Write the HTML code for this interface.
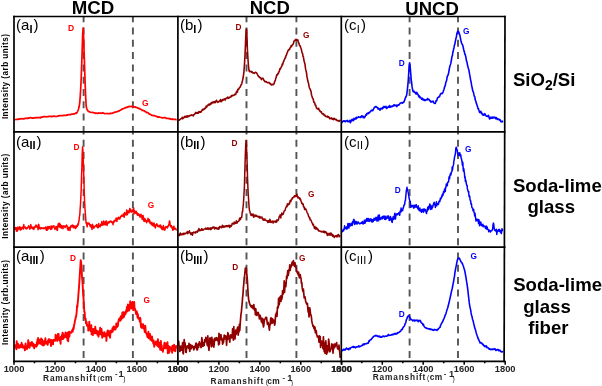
<!DOCTYPE html><html><head><meta charset="utf-8"><style>html,body{margin:0;padding:0;background:#fff;}svg{display:block;will-change:transform;font-family:"Liberation Sans",sans-serif;}</style></head><body>
<svg width="602" height="386" viewBox="0 0 602 386" >
<rect width="602" height="386" fill="#fff"/>
<line x1="83.6" y1="16.5" x2="83.6" y2="131.8" stroke="#555" stroke-width="1.9" stroke-dasharray="7 5.3" stroke-dashoffset="1.3"/>
<line x1="132.9" y1="16.5" x2="132.9" y2="131.8" stroke="#555" stroke-width="1.9" stroke-dasharray="7 5.3" stroke-dashoffset="1.3"/>
<line x1="246.5" y1="16.5" x2="246.5" y2="131.8" stroke="#555" stroke-width="1.9" stroke-dasharray="7 5.3" stroke-dashoffset="1.3"/>
<line x1="296.4" y1="16.5" x2="296.4" y2="131.8" stroke="#555" stroke-width="1.9" stroke-dasharray="7 5.3" stroke-dashoffset="1.3"/>
<line x1="409.6" y1="16.5" x2="409.6" y2="131.8" stroke="#555" stroke-width="1.9" stroke-dasharray="7 5.3" stroke-dashoffset="1.3"/>
<line x1="458.0" y1="16.5" x2="458.0" y2="131.8" stroke="#555" stroke-width="1.9" stroke-dasharray="7 5.3" stroke-dashoffset="1.3"/>
<line x1="83.6" y1="131.8" x2="83.6" y2="247.2" stroke="#555" stroke-width="1.9" stroke-dasharray="7 5.3" stroke-dashoffset="4.3"/>
<line x1="132.9" y1="131.8" x2="132.9" y2="247.2" stroke="#555" stroke-width="1.9" stroke-dasharray="7 5.3" stroke-dashoffset="4.3"/>
<line x1="246.5" y1="131.8" x2="246.5" y2="247.2" stroke="#555" stroke-width="1.9" stroke-dasharray="7 5.3" stroke-dashoffset="4.3"/>
<line x1="296.4" y1="131.8" x2="296.4" y2="247.2" stroke="#555" stroke-width="1.9" stroke-dasharray="7 5.3" stroke-dashoffset="4.3"/>
<line x1="409.6" y1="131.8" x2="409.6" y2="247.2" stroke="#555" stroke-width="1.9" stroke-dasharray="7 5.3" stroke-dashoffset="4.3"/>
<line x1="458.0" y1="131.8" x2="458.0" y2="247.2" stroke="#555" stroke-width="1.9" stroke-dasharray="7 5.3" stroke-dashoffset="4.3"/>
<line x1="83.6" y1="247.2" x2="83.6" y2="361.3" stroke="#555" stroke-width="1.9" stroke-dasharray="7 5.3" stroke-dashoffset="7.0"/>
<line x1="132.9" y1="247.2" x2="132.9" y2="361.3" stroke="#555" stroke-width="1.9" stroke-dasharray="7 5.3" stroke-dashoffset="7.0"/>
<line x1="246.5" y1="247.2" x2="246.5" y2="361.3" stroke="#555" stroke-width="1.9" stroke-dasharray="7 5.3" stroke-dashoffset="7.0"/>
<line x1="296.4" y1="247.2" x2="296.4" y2="361.3" stroke="#555" stroke-width="1.9" stroke-dasharray="7 5.3" stroke-dashoffset="7.0"/>
<line x1="409.6" y1="247.2" x2="409.6" y2="361.3" stroke="#555" stroke-width="1.9" stroke-dasharray="7 5.3" stroke-dashoffset="7.0"/>
<line x1="458.0" y1="247.2" x2="458.0" y2="361.3" stroke="#555" stroke-width="1.9" stroke-dasharray="7 5.3" stroke-dashoffset="7.0"/>
<path d="M14.7,119.7 L15.2,119.5 L15.7,119.5 L16.2,119.5 L16.7,119.3 L17.2,119.5 L17.7,119.3 L18.2,119.4 L18.7,118.9 L19.2,119.1 L19.7,119.0 L20.2,118.8 L20.7,118.9 L21.2,118.7 L21.7,118.6 L22.2,118.8 L22.7,118.8 L23.2,118.9 L23.7,118.7 L24.2,118.8 L24.7,118.5 L25.2,118.3 L25.7,118.4 L26.2,118.2 L26.7,118.4 L27.2,118.4 L27.7,118.1 L28.2,118.3 L28.7,118.0 L29.2,117.9 L29.7,117.9 L30.2,117.8 L30.7,117.5 L31.2,117.7 L31.7,118.1 L32.2,118.2 L32.7,117.9 L33.2,118.0 L33.7,118.2 L34.2,117.9 L34.7,117.9 L35.2,117.5 L35.7,117.6 L36.2,117.6 L36.7,117.9 L37.2,117.7 L37.7,117.6 L38.2,117.6 L38.7,117.6 L39.2,117.6 L39.7,117.5 L40.2,117.3 L40.7,117.8 L41.2,117.0 L41.7,117.1 L42.2,117.1 L42.7,116.9 L43.2,116.8 L43.7,116.7 L44.2,116.7 L44.7,116.7 L45.2,116.6 L45.7,116.6 L46.2,117.0 L46.7,116.8 L47.2,116.7 L47.7,116.7 L48.2,116.6 L48.7,116.4 L49.2,116.4 L49.7,116.4 L50.2,116.3 L50.7,116.4 L51.2,116.6 L51.7,116.4 L52.2,116.6 L52.7,116.5 L53.2,116.1 L53.7,116.2 L54.2,116.2 L54.7,116.5 L55.2,116.4 L55.7,116.5 L56.2,116.5 L56.7,116.5 L57.2,116.3 L57.7,116.1 L58.2,115.9 L58.7,116.0 L59.2,115.8 L59.7,115.7 L60.2,115.7 L60.7,115.6 L61.2,115.7 L61.7,115.6 L62.2,115.6 L62.7,115.5 L63.2,115.6 L63.7,115.3 L64.2,115.3 L64.7,115.5 L65.2,115.4 L65.7,115.4 L66.2,115.3 L66.7,115.1 L67.2,114.9 L67.7,115.2 L68.2,114.8 L68.7,114.6 L69.2,114.6 L69.7,114.6 L70.2,114.6 L70.7,114.8 L71.2,114.2 L71.7,114.2 L72.2,114.2 L72.7,114.2 L73.2,114.1 L73.7,113.9 L74.2,113.9 L74.7,113.8 L75.2,113.4 L75.7,113.0 L76.2,113.3 L76.7,112.9 L77.2,112.2 L77.7,111.3 L78.2,110.0 L78.7,108.3 L79.2,106.3 L79.7,103.1 L80.2,96.8 L80.7,88.7 L81.2,78.0 L81.7,64.0 L82.2,49.4 L82.7,33.3 L83.2,28.1 L83.7,39.4 L84.2,55.2 L84.7,70.4 L85.2,85.1 L85.7,97.9 L86.2,106.3 L86.7,108.3 L87.2,109.8 L87.7,110.5 L88.2,111.2 L88.7,111.5 L89.2,111.8 L89.7,111.9 L90.2,112.0 L90.7,112.5 L91.2,112.5 L91.7,112.4 L92.2,112.4 L92.7,112.4 L93.2,112.5 L93.7,112.7 L94.2,112.9 L94.7,112.9 L95.2,113.3 L95.7,113.2 L96.2,113.0 L96.7,113.2 L97.2,113.4 L97.7,113.2 L98.2,112.9 L98.7,113.3 L99.2,113.2 L99.7,113.1 L100.2,113.0 L100.7,113.2 L101.2,113.3 L101.7,113.2 L102.2,113.1 L102.7,112.7 L103.2,113.1 L103.7,113.1 L104.2,113.5 L104.7,113.7 L105.2,113.6 L105.7,113.5 L106.2,113.5 L106.7,113.5 L107.2,113.7 L107.7,113.6 L108.2,113.6 L108.7,113.5 L109.2,113.7 L109.7,113.5 L110.2,113.6 L110.7,113.1 L111.2,113.4 L111.7,113.5 L112.2,113.4 L112.7,113.0 L113.2,112.9 L113.7,112.5 L114.2,112.6 L114.7,112.1 L115.2,112.1 L115.7,112.0 L116.2,111.9 L116.7,111.8 L117.2,111.7 L117.7,111.4 L118.2,111.2 L118.7,110.9 L119.2,111.0 L119.7,110.6 L120.2,110.3 L120.7,110.0 L121.2,109.7 L121.7,109.4 L122.2,108.8 L122.7,108.9 L123.2,108.7 L123.7,108.5 L124.2,108.2 L124.7,108.0 L125.2,107.6 L125.7,107.9 L126.2,107.4 L126.7,107.4 L127.2,107.3 L127.7,106.8 L128.2,107.0 L128.7,106.6 L129.2,106.3 L129.7,106.7 L130.2,106.7 L130.7,106.3 L131.2,106.4 L131.7,106.4 L132.2,106.9 L132.7,106.7 L133.2,106.6 L133.7,106.7 L134.2,107.1 L134.7,106.8 L135.2,106.9 L135.7,107.3 L136.2,107.3 L136.7,107.4 L137.2,107.7 L137.7,108.0 L138.2,108.1 L138.7,108.5 L139.2,108.3 L139.7,108.8 L140.2,108.8 L140.7,109.2 L141.2,109.5 L141.7,109.7 L142.2,110.4 L142.7,110.4 L143.2,110.4 L143.7,110.7 L144.2,110.8 L144.7,111.4 L145.2,111.4 L145.7,111.9 L146.2,112.0 L146.7,112.6 L147.2,112.3 L147.7,112.7 L148.2,112.9 L148.7,113.4 L149.2,114.1 L149.7,114.0 L150.2,114.3 L150.7,114.5 L151.2,115.0 L151.7,115.3 L152.2,115.4 L152.7,115.4 L153.2,115.6 L153.7,115.5 L154.2,115.6 L154.7,115.7 L155.2,116.0 L155.7,116.1 L156.2,116.4 L156.7,116.4 L157.2,116.7 L157.7,117.1 L158.2,116.9 L158.7,116.9 L159.2,117.2 L159.7,117.0 L160.2,117.3 L160.7,117.5 L161.2,117.5 L161.7,117.6 L162.2,117.9 L162.7,117.9 L163.2,117.8 L163.7,117.8 L164.2,117.5 L164.7,117.7 L165.2,117.6 L165.7,118.0 L166.2,118.4 L166.7,118.3 L167.2,118.4 L167.7,118.5 L168.2,118.4 L168.7,118.7 L169.2,118.7 L169.7,118.8 L170.2,118.7 L170.7,119.2 L171.2,119.1 L171.7,119.3 L172.2,119.4 L172.7,118.9 L173.2,119.3 L173.7,119.3 L174.2,119.5 L174.7,119.5 L175.2,119.3 L175.7,119.4 L176.2,119.6 L176.7,119.6" fill="none" stroke="#ff0000" stroke-width="1.7" stroke-linejoin="round"/>
<path d="M178.6,120.7 L179.0,119.8 L179.4,120.1 L179.8,119.7 L180.2,119.2 L180.6,119.0 L181.0,118.8 L181.4,118.6 L181.8,118.2 L182.2,117.3 L182.6,118.7 L183.0,118.5 L183.4,118.0 L183.8,117.5 L184.2,116.9 L184.6,117.5 L185.0,116.4 L185.4,116.3 L185.8,116.9 L186.2,117.0 L186.6,117.1 L187.0,115.9 L187.4,115.8 L187.8,116.9 L188.2,116.3 L188.6,116.0 L189.0,116.5 L189.4,115.7 L189.8,115.7 L190.2,115.3 L190.6,115.3 L191.0,115.4 L191.4,115.3 L191.8,114.9 L192.2,115.2 L192.6,115.5 L193.0,115.2 L193.4,115.9 L193.8,114.5 L194.2,114.6 L194.6,114.4 L195.0,113.8 L195.4,113.0 L195.8,112.4 L196.2,113.1 L196.6,113.1 L197.0,113.0 L197.4,112.7 L197.8,113.2 L198.2,112.4 L198.6,113.1 L199.0,111.6 L199.4,111.8 L199.8,112.2 L200.2,111.7 L200.6,112.3 L201.0,112.2 L201.4,111.2 L201.8,110.8 L202.2,109.7 L202.6,110.2 L203.0,109.0 L203.4,109.6 L203.8,109.5 L204.2,109.3 L204.6,108.9 L205.0,108.2 L205.4,108.4 L205.8,107.5 L206.2,106.0 L206.6,107.2 L207.0,106.1 L207.4,105.9 L207.8,105.8 L208.2,104.5 L208.6,104.4 L209.0,104.4 L209.4,105.1 L209.8,104.9 L210.2,103.5 L210.6,104.1 L211.0,104.1 L211.4,102.6 L211.8,103.0 L212.2,102.4 L212.6,103.0 L213.0,102.0 L213.4,102.6 L213.8,102.0 L214.2,101.6 L214.6,102.4 L215.0,102.8 L215.4,102.1 L215.8,101.5 L216.2,100.5 L216.6,100.4 L217.0,101.8 L217.4,101.8 L217.8,102.3 L218.2,101.8 L218.6,101.9 L219.0,101.7 L219.4,100.9 L219.8,100.9 L220.2,100.8 L220.6,99.5 L221.0,101.8 L221.4,101.0 L221.8,100.5 L222.2,100.8 L222.6,99.5 L223.0,99.9 L223.4,99.5 L223.8,100.0 L224.2,98.7 L224.6,99.7 L225.0,99.9 L225.4,99.9 L225.8,98.5 L226.2,98.4 L226.6,98.1 L227.0,97.8 L227.4,97.6 L227.8,97.1 L228.2,98.4 L228.6,98.1 L229.0,98.1 L229.4,97.4 L229.8,97.0 L230.2,97.1 L230.6,97.1 L231.0,96.7 L231.4,95.6 L231.8,96.4 L232.2,95.7 L232.6,95.3 L233.0,95.3 L233.4,95.4 L233.8,95.3 L234.2,95.0 L234.6,95.0 L235.0,94.1 L235.4,93.8 L235.8,94.3 L236.2,92.3 L236.6,91.7 L237.0,91.0 L237.4,92.1 L237.8,89.3 L238.2,89.4 L238.6,89.5 L239.0,88.7 L239.4,87.6 L239.8,87.4 L240.2,86.9 L240.6,85.8 L241.0,85.1 L241.4,84.5 L241.8,83.4 L242.2,81.8 L242.6,80.2 L243.0,78.3 L243.4,75.6 L243.8,73.1 L244.2,68.1 L244.6,62.4 L245.0,55.0 L245.4,46.0 L245.8,36.3 L246.2,29.3 L246.6,29.1 L247.0,37.7 L247.4,49.4 L247.8,56.3 L248.2,62.4 L248.6,67.3 L249.0,70.3 L249.4,71.4 L249.8,71.8 L250.2,71.7 L250.6,71.3 L251.0,71.3 L251.4,71.5 L251.8,72.3 L252.2,71.8 L252.6,72.8 L253.0,72.6 L253.4,72.8 L253.8,73.1 L254.2,73.4 L254.6,73.0 L255.0,72.6 L255.4,72.4 L255.8,72.3 L256.2,72.7 L256.6,72.7 L257.0,73.8 L257.4,74.2 L257.8,75.1 L258.2,75.7 L258.6,76.7 L259.0,76.6 L259.4,76.9 L259.8,77.6 L260.2,77.7 L260.6,77.8 L261.0,78.3 L261.4,79.6 L261.8,78.9 L262.2,78.2 L262.6,78.2 L263.0,78.5 L263.4,79.1 L263.8,80.2 L264.2,80.4 L264.6,81.2 L265.0,81.7 L265.4,81.6 L265.8,81.9 L266.2,81.5 L266.6,82.2 L267.0,82.2 L267.4,82.7 L267.8,82.7 L268.2,82.5 L268.6,82.6 L269.0,82.5 L269.4,82.8 L269.8,83.6 L270.2,83.9 L270.6,83.6 L271.0,84.5 L271.4,85.0 L271.8,84.7 L272.2,84.8 L272.6,84.3 L273.0,84.6 L273.4,84.6 L273.8,83.9 L274.2,83.5 L274.6,81.6 L275.0,81.0 L275.4,79.9 L275.8,78.1 L276.2,77.3 L276.6,75.6 L277.0,74.6 L277.4,75.0 L277.8,73.5 L278.2,73.8 L278.6,72.9 L279.0,71.6 L279.4,71.2 L279.8,68.9 L280.2,69.3 L280.6,68.5 L281.0,67.7 L281.4,66.7 L281.8,66.4 L282.2,64.1 L282.6,64.9 L283.0,63.2 L283.4,61.8 L283.8,61.3 L284.2,59.8 L284.6,59.1 L285.0,58.1 L285.4,58.0 L285.8,56.0 L286.2,55.6 L286.6,54.4 L287.0,53.3 L287.4,52.3 L287.8,51.4 L288.2,50.3 L288.6,49.9 L289.0,49.4 L289.4,49.7 L289.8,48.2 L290.2,48.0 L290.6,47.1 L291.0,45.9 L291.4,46.6 L291.8,45.9 L292.2,44.8 L292.6,44.8 L293.0,44.3 L293.4,43.6 L293.8,41.9 L294.2,40.9 L294.6,40.4 L295.0,40.5 L295.4,40.3 L295.8,39.5 L296.2,39.3 L296.6,40.3 L297.0,40.2 L297.4,40.4 L297.8,39.8 L298.2,41.5 L298.6,42.8 L299.0,43.1 L299.4,45.1 L299.8,45.7 L300.2,45.7 L300.6,47.3 L301.0,48.2 L301.4,49.4 L301.8,51.6 L302.2,53.1 L302.6,53.5 L303.0,56.3 L303.4,56.9 L303.8,59.3 L304.2,61.6 L304.6,62.7 L305.0,64.1 L305.4,67.8 L305.8,69.9 L306.2,71.3 L306.6,73.4 L307.0,76.9 L307.4,78.6 L307.8,81.1 L308.2,82.3 L308.6,83.6 L309.0,86.1 L309.4,87.8 L309.8,88.7 L310.2,89.4 L310.6,90.4 L311.0,91.4 L311.4,94.2 L311.8,95.7 L312.2,96.9 L312.6,98.4 L313.0,98.7 L313.4,100.0 L313.8,102.0 L314.2,102.7 L314.6,102.6 L315.0,104.3 L315.4,105.5 L315.8,105.2 L316.2,107.0 L316.6,108.3 L317.0,108.4 L317.4,108.9 L317.8,108.6 L318.2,109.1 L318.6,108.3 L319.0,109.8 L319.4,110.1 L319.8,110.9 L320.2,111.7 L320.6,111.4 L321.0,112.1 L321.4,111.9 L321.8,113.3 L322.2,113.7 L322.6,113.8 L323.0,113.6 L323.4,114.7 L323.8,114.2 L324.2,115.2 L324.6,115.5 L325.0,115.2 L325.4,116.1 L325.8,116.2 L326.2,116.7 L326.6,116.7 L327.0,116.6 L327.4,116.2 L327.8,117.2 L328.2,117.2 L328.6,116.6 L329.0,117.6 L329.4,117.6 L329.8,118.8 L330.2,118.7 L330.6,118.4 L331.0,118.1 L331.4,117.8 L331.8,118.6 L332.2,119.3 L332.6,118.6 L333.0,119.2 L333.4,118.6 L333.8,119.6 L334.2,118.2 L334.6,119.3 L335.0,119.0 L335.4,119.7 L335.8,119.3 L336.2,119.4 L336.6,119.9 L337.0,120.6 L337.4,120.6 L337.8,120.5 L338.2,120.6 L338.6,120.7 L339.0,121.3 L339.4,121.0 L339.8,120.7 L340.2,119.8" fill="none" stroke="#900000" stroke-width="1.6" stroke-linejoin="round"/>
<path d="M342.0,123.0 L342.4,121.5 L342.8,121.4 L343.2,121.3 L343.6,120.9 L344.0,121.3 L344.4,121.2 L344.8,120.8 L345.2,121.8 L345.6,121.3 L346.0,121.0 L346.4,121.0 L346.8,120.8 L347.2,120.4 L347.6,121.6 L348.0,121.8 L348.4,121.6 L348.8,121.0 L349.2,121.7 L349.6,121.5 L350.0,120.3 L350.4,122.7 L350.8,121.3 L351.2,120.2 L351.6,120.8 L352.0,119.4 L352.4,120.0 L352.8,119.4 L353.2,120.8 L353.6,119.6 L354.0,118.4 L354.4,119.6 L354.8,118.6 L355.2,118.8 L355.6,118.2 L356.0,119.0 L356.4,117.2 L356.8,118.3 L357.2,117.3 L357.6,117.6 L358.0,117.4 L358.4,117.1 L358.8,116.7 L359.2,117.2 L359.6,117.3 L360.0,117.4 L360.4,116.9 L360.8,117.4 L361.2,117.1 L361.6,115.8 L362.0,116.0 L362.4,116.2 L362.8,116.3 L363.2,117.8 L363.6,116.5 L364.0,117.2 L364.4,117.6 L364.8,117.0 L365.2,116.3 L365.6,115.3 L366.0,114.6 L366.4,115.2 L366.8,113.6 L367.2,113.3 L367.6,113.7 L368.0,113.6 L368.4,112.7 L368.8,113.3 L369.2,112.7 L369.6,112.2 L370.0,112.1 L370.4,111.5 L370.8,111.0 L371.2,110.3 L371.6,110.7 L372.0,110.1 L372.4,110.8 L372.8,110.7 L373.2,109.5 L373.6,108.9 L374.0,108.1 L374.4,107.5 L374.8,107.0 L375.2,107.1 L375.6,106.5 L376.0,106.5 L376.4,107.2 L376.8,107.3 L377.2,107.5 L377.6,107.8 L378.0,108.9 L378.4,108.2 L378.8,108.6 L379.2,109.3 L379.6,109.1 L380.0,110.3 L380.4,109.3 L380.8,108.2 L381.2,108.4 L381.6,108.4 L382.0,109.0 L382.4,108.9 L382.8,107.4 L383.2,108.0 L383.6,107.8 L384.0,106.4 L384.4,106.7 L384.8,107.3 L385.2,107.2 L385.6,107.2 L386.0,106.3 L386.4,108.3 L386.8,108.4 L387.2,108.0 L387.6,107.2 L388.0,107.2 L388.4,106.6 L388.8,106.5 L389.2,107.3 L389.6,105.5 L390.0,106.5 L390.4,107.1 L390.8,107.0 L391.2,106.3 L391.6,106.2 L392.0,106.6 L392.4,106.2 L392.8,105.9 L393.2,106.1 L393.6,105.3 L394.0,104.9 L394.4,104.8 L394.8,105.8 L395.2,105.7 L395.6,105.5 L396.0,105.3 L396.4,105.1 L396.8,106.6 L397.2,105.8 L397.6,105.4 L398.0,104.9 L398.4,104.8 L398.8,105.2 L399.2,104.4 L399.6,104.1 L400.0,103.5 L400.4,103.0 L400.8,103.0 L401.2,102.9 L401.6,103.0 L402.0,102.5 L402.4,103.2 L402.8,102.7 L403.2,102.5 L403.6,101.9 L404.0,102.0 L404.4,100.8 L404.8,99.9 L405.2,98.2 L405.6,97.7 L406.0,96.2 L406.4,96.2 L406.8,94.1 L407.2,91.1 L407.6,87.3 L408.0,83.3 L408.4,78.2 L408.8,71.9 L409.2,65.8 L409.6,62.7 L410.0,64.7 L410.4,69.3 L410.8,74.2 L411.2,79.6 L411.6,82.4 L412.0,86.2 L412.4,88.4 L412.8,90.9 L413.2,91.6 L413.6,91.6 L414.0,91.1 L414.4,92.3 L414.8,92.1 L415.2,92.4 L415.6,93.5 L416.0,94.0 L416.4,94.0 L416.8,92.2 L417.2,93.5 L417.6,93.7 L418.0,94.7 L418.4,95.3 L418.8,96.8 L419.2,95.8 L419.6,97.1 L420.0,97.7 L420.4,97.2 L420.8,97.9 L421.2,98.2 L421.6,99.1 L422.0,98.1 L422.4,99.2 L422.8,100.0 L423.2,99.0 L423.6,99.0 L424.0,99.8 L424.4,100.5 L424.8,99.8 L425.2,100.5 L425.6,100.1 L426.0,99.8 L426.4,99.8 L426.8,99.4 L427.2,99.9 L427.6,98.5 L428.0,99.2 L428.4,99.4 L428.8,99.2 L429.2,99.6 L429.6,100.7 L430.0,100.7 L430.4,101.0 L430.8,102.0 L431.2,101.4 L431.6,102.0 L432.0,101.6 L432.4,101.4 L432.8,101.4 L433.2,101.2 L433.6,102.7 L434.0,102.7 L434.4,103.2 L434.8,103.2 L435.2,103.5 L435.6,102.4 L436.0,100.8 L436.4,101.1 L436.8,100.4 L437.2,99.1 L437.6,97.8 L438.0,97.5 L438.4,97.3 L438.8,97.3 L439.2,96.3 L439.6,96.4 L440.0,95.3 L440.4,94.3 L440.8,93.7 L441.2,93.4 L441.6,93.4 L442.0,93.7 L442.4,93.1 L442.8,92.7 L443.2,91.6 L443.6,90.3 L444.0,89.5 L444.4,87.8 L444.8,86.3 L445.2,85.8 L445.6,83.6 L446.0,81.8 L446.4,81.1 L446.8,79.5 L447.2,76.6 L447.6,75.8 L448.0,75.2 L448.4,74.1 L448.8,71.9 L449.2,69.5 L449.6,67.4 L450.0,65.8 L450.4,64.8 L450.8,63.4 L451.2,61.0 L451.6,59.0 L452.0,56.3 L452.4,55.8 L452.8,52.5 L453.2,51.3 L453.6,49.1 L454.0,48.0 L454.4,45.2 L454.8,44.4 L455.2,42.2 L455.6,40.2 L456.0,38.1 L456.4,36.9 L456.8,33.5 L457.2,33.0 L457.6,31.4 L458.0,31.9 L458.4,31.4 L458.8,31.9 L459.2,33.3 L459.6,34.3 L460.0,35.9 L460.4,37.9 L460.8,40.2 L461.2,41.4 L461.6,43.3 L462.0,44.0 L462.4,44.5 L462.8,45.6 L463.2,47.1 L463.6,49.2 L464.0,50.9 L464.4,51.9 L464.8,54.2 L465.2,54.5 L465.6,56.1 L466.0,57.8 L466.4,60.6 L466.8,61.3 L467.2,63.4 L467.6,65.6 L468.0,67.0 L468.4,68.5 L468.8,69.5 L469.2,71.8 L469.6,74.2 L470.0,76.2 L470.4,78.8 L470.8,80.7 L471.2,82.6 L471.6,85.2 L472.0,87.1 L472.4,89.0 L472.8,91.0 L473.2,91.6 L473.6,92.9 L474.0,95.0 L474.4,96.6 L474.8,96.8 L475.2,99.6 L475.6,100.6 L476.0,102.1 L476.4,103.4 L476.8,104.4 L477.2,105.9 L477.6,106.8 L478.0,108.8 L478.4,108.5 L478.8,110.0 L479.2,111.1 L479.6,112.5 L480.0,112.2 L480.4,112.4 L480.8,111.2 L481.2,113.2 L481.6,112.7 L482.0,113.4 L482.4,114.9 L482.8,115.0 L483.2,114.7 L483.6,114.3 L484.0,115.2 L484.4,114.3 L484.8,113.7 L485.2,114.5 L485.6,115.2 L486.0,115.6 L486.4,116.3 L486.8,116.2 L487.2,116.4 L487.6,116.4 L488.0,115.9 L488.4,115.3 L488.8,116.5 L489.2,117.7 L489.6,118.9 L490.0,118.4 L490.4,117.3 L490.8,118.1 L491.2,118.1 L491.6,117.7 L492.0,117.0 L492.4,118.1 L492.8,118.1 L493.2,117.4 L493.6,117.8 L494.0,117.0 L494.4,117.7 L494.8,117.9 L495.2,117.4 L495.6,118.8 L496.0,117.9 L496.4,117.6 L496.8,118.6 L497.2,119.5 L497.6,118.9 L498.0,119.0 L498.4,119.0 L498.8,119.1 L499.2,120.0 L499.6,120.1 L500.0,119.6 L500.4,120.6 L500.8,121.5 L501.2,121.8 L501.6,121.4 L502.0,121.7 L502.4,121.1 L502.8,121.8 L503.2,121.9" fill="none" stroke="#0000ff" stroke-width="1.6" stroke-linejoin="round"/>
<path d="M14.7,227.1 L15.0,229.2 L15.4,227.4 L15.7,228.4 L16.1,228.5 L16.4,231.2 L16.8,227.7 L17.1,227.5 L17.5,231.0 L17.8,227.2 L18.2,227.5 L18.5,228.8 L18.9,229.1 L19.2,227.5 L19.6,226.7 L19.9,226.9 L20.3,230.1 L20.6,228.3 L21.0,227.7 L21.3,229.4 L21.7,228.6 L22.0,228.1 L22.4,227.2 L22.7,227.1 L23.1,227.0 L23.4,229.1 L23.8,224.6 L24.1,227.6 L24.5,227.0 L24.8,227.7 L25.2,227.0 L25.5,227.9 L25.9,227.5 L26.2,229.0 L26.6,228.2 L26.9,228.3 L27.3,228.5 L27.6,227.4 L28.0,227.1 L28.3,227.1 L28.7,225.7 L29.0,227.0 L29.4,227.2 L29.7,229.1 L30.1,228.6 L30.4,228.5 L30.8,224.6 L31.1,226.8 L31.5,227.6 L31.8,226.7 L32.2,228.1 L32.5,228.8 L32.9,228.0 L33.2,228.0 L33.6,227.4 L33.9,229.4 L34.3,227.1 L34.6,226.9 L35.0,227.4 L35.3,226.0 L35.7,226.9 L36.0,225.0 L36.4,226.8 L36.7,225.8 L37.1,226.4 L37.4,227.6 L37.8,226.7 L38.1,229.7 L38.5,224.3 L38.8,224.5 L39.2,228.2 L39.5,226.9 L39.9,227.9 L40.2,229.0 L40.6,227.9 L40.9,228.3 L41.3,228.5 L41.6,227.8 L42.0,228.2 L42.3,228.0 L42.7,228.4 L43.0,228.4 L43.4,227.9 L43.7,228.6 L44.1,227.8 L44.4,228.5 L44.8,228.6 L45.1,228.4 L45.5,227.3 L45.8,227.0 L46.2,229.4 L46.5,230.3 L46.9,227.2 L47.2,230.2 L47.6,229.4 L47.9,226.5 L48.3,227.9 L48.6,228.8 L49.0,227.8 L49.3,226.4 L49.7,228.0 L50.0,227.9 L50.4,227.6 L50.7,229.4 L51.1,225.9 L51.4,228.3 L51.8,229.0 L52.1,227.7 L52.5,226.2 L52.8,226.1 L53.2,226.5 L53.5,226.9 L53.9,225.7 L54.2,227.7 L54.6,228.1 L54.9,229.3 L55.3,228.9 L55.6,228.8 L56.0,226.5 L56.3,227.6 L56.7,226.9 L57.0,230.1 L57.4,230.2 L57.7,227.0 L58.1,224.7 L58.4,223.6 L58.8,226.3 L59.1,226.6 L59.5,223.3 L59.8,227.2 L60.2,224.2 L60.5,225.9 L60.9,225.8 L61.2,228.1 L61.6,225.6 L61.9,226.9 L62.3,228.0 L62.6,226.3 L63.0,228.7 L63.3,225.8 L63.7,226.5 L64.0,226.5 L64.4,226.1 L64.7,226.7 L65.1,227.6 L65.4,225.9 L65.8,226.3 L66.1,226.1 L66.5,225.1 L66.8,225.4 L67.2,226.8 L67.5,229.0 L67.9,229.3 L68.2,230.3 L68.6,227.5 L68.9,227.2 L69.3,227.6 L69.6,228.4 L70.0,230.5 L70.3,226.9 L70.7,226.9 L71.0,225.8 L71.4,227.0 L71.7,225.6 L72.1,226.3 L72.4,225.0 L72.8,226.4 L73.1,227.4 L73.5,227.7 L73.8,225.5 L74.2,226.8 L74.5,227.3 L74.9,226.5 L75.2,228.5 L75.6,226.2 L75.9,226.0 L76.3,227.7 L76.6,226.7 L77.0,225.6 L77.3,226.3 L77.7,223.9 L78.0,225.2 L78.4,223.7 L78.7,221.8 L79.1,220.3 L79.4,216.9 L79.8,214.6 L80.1,209.6 L80.5,204.5 L80.8,198.0 L81.2,189.0 L81.5,177.2 L81.9,166.9 L82.2,153.7 L82.6,146.8 L82.9,150.6 L83.3,161.0 L83.6,171.0 L84.0,183.0 L84.3,194.6 L84.7,203.5 L85.0,209.0 L85.4,214.1 L85.7,218.3 L86.1,223.1 L86.4,223.1 L86.8,224.1 L87.1,226.8 L87.5,224.1 L87.8,222.7 L88.2,223.8 L88.5,223.9 L88.9,223.3 L89.2,223.2 L89.6,224.8 L89.9,224.7 L90.3,226.7 L90.6,224.7 L91.0,226.7 L91.3,226.4 L91.7,227.5 L92.0,229.5 L92.4,224.2 L92.7,226.8 L93.1,225.6 L93.4,227.7 L93.8,228.2 L94.1,227.3 L94.5,227.1 L94.8,226.4 L95.2,225.8 L95.5,226.0 L95.9,225.8 L96.2,225.5 L96.6,224.6 L96.9,226.7 L97.3,227.4 L97.6,225.3 L98.0,227.8 L98.3,227.2 L98.7,223.5 L99.0,225.3 L99.4,226.5 L99.7,226.7 L100.1,226.9 L100.4,225.7 L100.8,224.3 L101.1,225.5 L101.5,224.1 L101.8,221.6 L102.2,225.2 L102.5,224.6 L102.9,224.5 L103.2,224.9 L103.6,221.1 L103.9,222.7 L104.3,224.5 L104.6,224.5 L105.0,222.0 L105.3,224.9 L105.7,224.4 L106.0,221.0 L106.4,223.5 L106.7,221.3 L107.1,225.4 L107.4,224.3 L107.8,222.7 L108.1,222.7 L108.5,223.0 L108.8,221.8 L109.2,222.8 L109.5,222.5 L109.9,221.2 L110.2,221.7 L110.6,221.1 L110.9,221.1 L111.3,221.4 L111.6,222.4 L112.0,222.3 L112.3,222.0 L112.7,223.2 L113.0,224.7 L113.4,221.7 L113.7,221.1 L114.1,221.4 L114.4,221.9 L114.8,220.3 L115.1,220.7 L115.5,220.7 L115.8,219.7 L116.2,218.0 L116.5,219.1 L116.9,221.5 L117.2,218.6 L117.6,218.7 L117.9,219.2 L118.3,217.3 L118.6,218.4 L119.0,217.6 L119.3,218.8 L119.7,219.0 L120.0,218.7 L120.4,216.8 L120.7,216.6 L121.1,216.6 L121.4,215.3 L121.8,216.4 L122.1,216.2 L122.5,216.0 L122.8,215.8 L123.2,214.0 L123.5,216.4 L123.9,215.6 L124.2,217.2 L124.6,212.6 L124.9,214.5 L125.3,214.8 L125.6,213.9 L126.0,213.2 L126.3,215.0 L126.7,209.9 L127.0,213.8 L127.4,214.6 L127.7,212.4 L128.1,211.0 L128.4,212.0 L128.8,212.2 L129.1,212.9 L129.5,210.1 L129.8,208.4 L130.2,211.1 L130.5,209.3 L130.9,211.9 L131.2,210.2 L131.6,211.9 L131.9,212.1 L132.3,211.7 L132.6,210.1 L133.0,211.5 L133.3,211.4 L133.7,207.9 L134.0,214.0 L134.4,210.5 L134.7,211.5 L135.1,211.8 L135.4,212.9 L135.8,213.2 L136.1,211.2 L136.5,213.8 L136.8,213.6 L137.2,212.9 L137.5,215.3 L137.9,214.2 L138.2,214.8 L138.6,213.9 L138.9,215.6 L139.3,214.5 L139.6,214.6 L140.0,217.2 L140.3,216.8 L140.7,215.8 L141.0,214.3 L141.4,216.4 L141.7,215.4 L142.1,219.2 L142.4,218.0 L142.8,217.7 L143.1,215.5 L143.5,219.3 L143.8,221.0 L144.2,218.3 L144.5,218.5 L144.9,221.5 L145.2,219.1 L145.6,219.8 L145.9,220.4 L146.3,221.2 L146.6,222.7 L147.0,221.0 L147.3,221.3 L147.7,221.3 L148.0,218.2 L148.4,221.4 L148.7,220.8 L149.1,221.6 L149.4,219.6 L149.8,221.0 L150.1,223.4 L150.5,222.1 L150.8,223.2 L151.2,224.1 L151.5,223.3 L151.9,222.3 L152.2,225.4 L152.6,223.7 L152.9,224.9 L153.3,223.6 L153.6,226.1 L154.0,223.0 L154.3,224.1 L154.7,225.6 L155.0,227.3 L155.4,227.9 L155.7,226.3 L156.1,224.5 L156.4,225.3 L156.8,223.8 L157.1,224.3 L157.5,224.9 L157.8,226.4 L158.2,226.1 L158.5,226.5 L158.9,226.8 L159.2,225.3 L159.6,226.0 L159.9,226.8 L160.3,227.3 L160.6,225.0 L161.0,227.0 L161.3,228.3 L161.7,226.8 L162.0,229.5 L162.4,227.8 L162.7,229.4 L163.1,228.5 L163.4,225.5 L163.8,229.3 L164.1,229.7 L164.5,227.9 L164.8,230.2 L165.2,228.5 L165.5,227.6 L165.9,226.4 L166.2,226.8 L166.6,226.7 L166.9,227.7 L167.3,228.0 L167.6,226.3 L168.0,226.7 L168.3,225.7 L168.7,225.5 L169.0,224.3 L169.4,221.0 L169.7,221.0 L170.1,224.6 L170.4,225.9 L170.8,226.3 L171.1,227.1 L171.5,225.6 L171.8,228.0 L172.2,227.8 L172.5,227.4 L172.9,230.3 L173.2,228.0 L173.6,227.5 L173.9,226.2 L174.3,229.3 L174.6,228.3 L175.0,228.8 L175.3,229.0 L175.7,228.3 L176.0,229.6 L176.4,229.8 L176.7,229.3" fill="none" stroke="#ff0000" stroke-width="1.5" stroke-linejoin="round"/>
<path d="M178.6,234.3 L178.9,235.2 L179.3,234.2 L179.6,235.5 L180.0,233.8 L180.3,232.9 L180.7,233.7 L181.0,234.8 L181.4,234.8 L181.7,234.5 L182.1,234.0 L182.4,234.6 L182.8,233.6 L183.1,234.2 L183.5,233.3 L183.8,234.5 L184.2,234.0 L184.5,233.3 L184.9,233.4 L185.2,233.7 L185.6,233.8 L185.9,233.0 L186.3,233.1 L186.6,232.6 L187.0,232.9 L187.3,231.4 L187.7,233.7 L188.0,232.2 L188.4,232.1 L188.7,232.6 L189.1,232.7 L189.4,230.8 L189.8,232.5 L190.1,232.4 L190.5,233.1 L190.8,234.4 L191.2,234.5 L191.5,234.1 L191.9,232.7 L192.2,234.1 L192.6,235.1 L192.9,232.4 L193.3,232.4 L193.6,232.1 L194.0,232.4 L194.3,232.8 L194.7,232.3 L195.0,232.1 L195.4,231.8 L195.7,233.0 L196.1,232.0 L196.4,231.7 L196.8,231.7 L197.1,231.1 L197.5,232.1 L197.8,231.3 L198.2,230.1 L198.5,230.1 L198.9,228.4 L199.2,230.8 L199.6,230.2 L199.9,229.7 L200.3,230.5 L200.6,230.1 L201.0,230.4 L201.3,230.1 L201.7,228.6 L202.0,229.0 L202.4,229.8 L202.7,230.1 L203.1,229.5 L203.4,230.0 L203.8,229.2 L204.1,229.2 L204.5,229.0 L204.8,229.0 L205.2,229.1 L205.5,228.4 L205.9,228.0 L206.2,229.3 L206.6,228.4 L206.9,228.4 L207.3,229.3 L207.6,228.5 L208.0,227.7 L208.3,228.6 L208.7,229.1 L209.0,229.4 L209.4,228.6 L209.7,228.7 L210.1,227.7 L210.4,228.7 L210.8,229.6 L211.1,228.2 L211.5,229.0 L211.8,227.7 L212.2,228.2 L212.5,227.2 L212.9,227.9 L213.2,226.9 L213.6,227.2 L213.9,228.0 L214.3,227.1 L214.6,228.9 L215.0,227.8 L215.3,228.3 L215.7,228.4 L216.0,227.5 L216.4,228.0 L216.7,228.3 L217.1,229.1 L217.4,229.0 L217.8,228.4 L218.1,227.7 L218.5,229.1 L218.8,229.2 L219.2,228.3 L219.5,226.6 L219.9,226.4 L220.2,226.6 L220.6,227.1 L220.9,227.4 L221.3,227.3 L221.6,227.7 L222.0,227.4 L222.3,225.2 L222.7,227.1 L223.0,225.7 L223.4,226.8 L223.7,227.3 L224.1,225.9 L224.4,226.4 L224.8,227.0 L225.1,226.8 L225.5,226.5 L225.8,225.9 L226.2,225.6 L226.5,226.5 L226.9,225.9 L227.2,226.6 L227.6,225.8 L227.9,225.7 L228.3,226.4 L228.6,225.7 L229.0,225.1 L229.3,226.4 L229.7,227.5 L230.0,226.4 L230.4,225.4 L230.7,225.5 L231.1,226.6 L231.4,225.4 L231.8,225.4 L232.1,223.6 L232.5,223.7 L232.8,223.2 L233.2,223.8 L233.5,223.9 L233.9,224.1 L234.2,222.0 L234.6,223.8 L234.9,222.8 L235.3,223.4 L235.6,223.3 L236.0,223.2 L236.3,220.8 L236.7,223.0 L237.0,223.1 L237.4,222.7 L237.7,221.6 L238.1,221.4 L238.4,221.3 L238.8,221.2 L239.1,220.7 L239.5,218.3 L239.8,219.9 L240.2,218.1 L240.5,219.4 L240.9,217.7 L241.2,217.9 L241.6,217.7 L241.9,215.8 L242.3,211.5 L242.6,211.9 L243.0,207.5 L243.3,205.0 L243.7,199.5 L244.0,193.8 L244.4,186.9 L244.7,176.0 L245.1,162.3 L245.4,152.8 L245.8,143.8 L246.1,140.5 L246.5,145.9 L246.8,154.9 L247.2,165.1 L247.5,176.9 L247.9,187.3 L248.2,193.8 L248.6,199.4 L248.9,204.6 L249.3,209.3 L249.6,210.5 L250.0,211.9 L250.3,213.5 L250.7,214.2 L251.0,215.4 L251.4,214.7 L251.7,214.0 L252.1,215.0 L252.4,215.6 L252.8,215.5 L253.1,213.9 L253.5,216.9 L253.8,217.3 L254.2,215.2 L254.5,216.1 L254.9,215.4 L255.2,215.1 L255.6,216.3 L255.9,216.4 L256.3,216.1 L256.6,215.4 L257.0,215.9 L257.3,216.6 L257.7,216.8 L258.0,216.7 L258.4,216.9 L258.7,216.2 L259.1,217.7 L259.4,217.9 L259.8,216.4 L260.1,217.9 L260.5,217.6 L260.8,217.2 L261.2,217.6 L261.5,217.8 L261.9,217.0 L262.2,218.6 L262.6,218.2 L262.9,219.8 L263.3,219.6 L263.6,220.3 L264.0,219.0 L264.3,220.2 L264.7,219.8 L265.0,218.9 L265.4,220.0 L265.7,220.3 L266.1,220.4 L266.4,220.7 L266.8,220.7 L267.1,221.1 L267.5,221.6 L267.8,222.5 L268.2,220.4 L268.5,222.0 L268.9,220.9 L269.2,222.3 L269.6,221.6 L269.9,219.2 L270.3,220.6 L270.6,221.4 L271.0,222.5 L271.3,222.4 L271.7,221.9 L272.0,221.4 L272.4,221.0 L272.7,221.2 L273.1,223.1 L273.4,221.6 L273.8,221.9 L274.1,221.1 L274.5,221.7 L274.8,221.9 L275.2,221.6 L275.5,221.0 L275.9,222.4 L276.2,221.6 L276.6,222.0 L276.9,219.8 L277.3,220.8 L277.6,220.4 L278.0,220.6 L278.3,219.7 L278.7,219.1 L279.0,217.3 L279.4,216.2 L279.7,216.8 L280.1,214.8 L280.4,214.9 L280.8,217.9 L281.1,215.7 L281.5,214.9 L281.8,213.0 L282.2,214.2 L282.5,214.6 L282.9,213.4 L283.2,214.2 L283.6,212.7 L283.9,211.6 L284.3,210.7 L284.6,210.8 L285.0,210.6 L285.3,209.4 L285.7,207.8 L286.0,207.4 L286.4,206.5 L286.7,205.9 L287.1,206.6 L287.4,203.7 L287.8,204.6 L288.1,205.1 L288.5,204.0 L288.8,204.3 L289.2,202.9 L289.5,204.0 L289.9,201.8 L290.2,200.5 L290.6,201.1 L290.9,201.7 L291.3,199.6 L291.6,199.1 L292.0,199.4 L292.3,197.8 L292.7,197.9 L293.0,197.6 L293.4,197.6 L293.7,196.8 L294.1,197.1 L294.4,195.8 L294.8,196.3 L295.1,195.7 L295.5,196.5 L295.8,196.6 L296.2,196.5 L296.5,195.9 L296.9,194.0 L297.2,195.9 L297.6,196.1 L297.9,198.0 L298.3,196.9 L298.6,197.5 L299.0,197.8 L299.3,198.4 L299.7,197.9 L300.0,199.5 L300.4,198.9 L300.7,199.8 L301.1,201.7 L301.4,201.8 L301.8,203.6 L302.1,203.1 L302.5,203.3 L302.8,204.5 L303.2,204.1 L303.5,206.8 L303.9,206.6 L304.2,207.1 L304.6,209.6 L304.9,207.9 L305.3,209.0 L305.6,208.9 L306.0,209.3 L306.3,210.3 L306.7,211.1 L307.0,212.5 L307.4,213.2 L307.7,213.2 L308.1,214.5 L308.4,215.8 L308.8,216.6 L309.1,216.8 L309.5,218.2 L309.8,217.7 L310.2,220.1 L310.5,219.5 L310.9,220.2 L311.2,220.7 L311.6,221.7 L311.9,222.7 L312.3,223.0 L312.6,224.2 L313.0,225.2 L313.3,224.2 L313.7,225.8 L314.0,226.4 L314.4,228.3 L314.7,227.1 L315.1,226.6 L315.4,229.1 L315.8,228.8 L316.1,228.9 L316.5,227.5 L316.8,229.0 L317.2,228.8 L317.5,229.6 L317.9,229.0 L318.2,229.9 L318.6,230.9 L318.9,230.8 L319.3,231.1 L319.6,231.0 L320.0,231.2 L320.3,231.5 L320.7,231.2 L321.0,231.1 L321.4,231.9 L321.7,231.8 L322.1,231.8 L322.4,231.6 L322.8,231.5 L323.1,232.3 L323.5,231.8 L323.8,230.9 L324.2,232.0 L324.5,232.8 L324.9,231.4 L325.2,231.8 L325.6,232.1 L325.9,231.8 L326.3,233.0 L326.6,233.5 L327.0,233.0 L327.3,235.4 L327.7,233.8 L328.0,235.2 L328.4,234.5 L328.7,234.6 L329.1,233.3 L329.4,234.9 L329.8,234.3 L330.1,235.2 L330.5,233.5 L330.8,233.0 L331.2,234.9 L331.5,233.5 L331.9,234.8 L332.2,234.8 L332.6,236.3 L332.9,234.7 L333.3,236.1 L333.6,236.5 L334.0,236.0 L334.3,237.5 L334.7,236.3 L335.0,236.4 L335.4,236.4 L335.7,235.9 L336.1,235.5 L336.4,236.4 L336.8,236.1 L337.1,237.0 L337.5,235.1 L337.8,235.5 L338.2,235.8 L338.5,234.6 L338.9,235.6 L339.2,236.7 L339.6,235.9 L339.9,236.2 L340.3,236.5" fill="none" stroke="#900000" stroke-width="1.5" stroke-linejoin="round"/>
<path d="M342.0,232.4 L342.3,231.1 L342.7,231.3 L343.0,231.0 L343.3,229.2 L343.6,230.7 L344.0,229.5 L344.3,228.4 L344.6,225.8 L345.0,228.1 L345.3,228.8 L345.6,228.0 L346.0,227.5 L346.3,227.6 L346.6,226.9 L346.9,229.2 L347.3,227.2 L347.6,228.0 L347.9,223.5 L348.3,227.0 L348.6,226.9 L348.9,228.1 L349.3,223.5 L349.6,224.3 L349.9,224.7 L350.2,226.0 L350.6,224.7 L350.9,224.5 L351.2,223.2 L351.6,225.4 L351.9,224.2 L352.2,225.4 L352.6,221.8 L352.9,223.0 L353.2,222.3 L353.5,220.1 L353.9,219.3 L354.2,220.5 L354.5,224.4 L354.9,221.7 L355.2,223.6 L355.5,223.8 L355.9,221.3 L356.2,223.4 L356.5,223.8 L356.8,222.2 L357.2,224.0 L357.5,223.1 L357.8,222.0 L358.2,223.0 L358.5,222.1 L358.8,223.0 L359.2,223.3 L359.5,223.7 L359.8,223.9 L360.1,223.7 L360.5,223.2 L360.8,223.3 L361.1,222.7 L361.5,222.5 L361.8,223.3 L362.1,223.4 L362.5,221.4 L362.8,222.2 L363.1,224.0 L363.4,223.7 L363.8,222.6 L364.1,223.3 L364.4,220.3 L364.8,223.2 L365.1,223.1 L365.4,219.9 L365.8,220.8 L366.1,221.4 L366.4,220.7 L366.7,218.5 L367.1,220.9 L367.4,218.6 L367.7,221.1 L368.1,221.1 L368.4,218.6 L368.7,220.7 L369.1,220.6 L369.4,221.4 L369.7,220.3 L370.0,219.1 L370.4,219.7 L370.7,220.5 L371.0,218.8 L371.4,221.7 L371.7,221.0 L372.0,219.8 L372.4,221.9 L372.7,219.7 L373.0,219.7 L373.3,221.4 L373.7,219.9 L374.0,218.3 L374.3,219.8 L374.7,220.1 L375.0,218.5 L375.3,219.9 L375.7,219.4 L376.0,217.3 L376.3,218.1 L376.6,218.4 L377.0,221.2 L377.3,217.4 L377.6,218.2 L378.0,216.9 L378.3,215.3 L378.6,220.8 L379.0,218.2 L379.3,215.1 L379.6,218.1 L379.9,219.2 L380.3,218.0 L380.6,219.6 L380.9,218.7 L381.3,217.6 L381.6,217.4 L381.9,218.3 L382.3,218.8 L382.6,216.4 L382.9,217.9 L383.2,216.2 L383.6,218.1 L383.9,217.0 L384.2,216.1 L384.6,219.2 L384.9,219.3 L385.2,216.2 L385.6,218.2 L385.9,219.5 L386.2,217.4 L386.5,217.6 L386.9,218.3 L387.2,216.1 L387.5,216.2 L387.9,217.0 L388.2,217.9 L388.5,215.9 L388.9,218.2 L389.2,220.4 L389.5,219.6 L389.8,220.1 L390.2,218.1 L390.5,216.6 L390.8,218.5 L391.2,220.0 L391.5,218.6 L391.8,221.8 L392.2,222.4 L392.5,220.0 L392.8,219.8 L393.1,216.7 L393.5,218.2 L393.8,219.3 L394.1,217.6 L394.5,214.9 L394.8,213.3 L395.1,215.7 L395.5,219.0 L395.8,216.1 L396.1,214.1 L396.4,214.6 L396.8,214.0 L397.1,214.7 L397.4,213.7 L397.8,214.6 L398.1,213.6 L398.4,213.3 L398.8,212.8 L399.1,213.5 L399.4,213.8 L399.7,215.3 L400.1,211.2 L400.4,210.8 L400.7,212.1 L401.1,208.1 L401.4,211.4 L401.7,210.7 L402.1,210.3 L402.4,210.6 L402.7,210.6 L403.0,208.0 L403.4,207.9 L403.7,206.4 L404.0,205.0 L404.4,204.9 L404.7,204.4 L405.0,201.1 L405.4,200.7 L405.7,197.4 L406.0,194.5 L406.3,190.8 L406.7,188.9 L407.0,187.3 L407.3,189.0 L407.7,189.7 L408.0,191.9 L408.3,192.9 L408.7,195.5 L409.0,197.3 L409.3,199.1 L409.6,200.0 L410.0,201.8 L410.3,201.5 L410.6,207.2 L411.0,205.1 L411.3,206.0 L411.6,206.9 L412.0,205.9 L412.3,205.7 L412.6,205.9 L412.9,205.2 L413.3,206.7 L413.6,208.1 L413.9,206.1 L414.3,207.7 L414.6,205.3 L414.9,206.1 L415.3,207.1 L415.6,206.0 L415.9,205.5 L416.2,204.6 L416.6,206.5 L416.9,207.4 L417.2,207.6 L417.6,207.1 L417.9,208.9 L418.2,205.7 L418.6,209.7 L418.9,208.2 L419.2,209.4 L419.5,210.8 L419.9,208.1 L420.2,210.5 L420.5,211.0 L420.9,211.0 L421.2,210.1 L421.5,212.3 L421.9,209.6 L422.2,211.3 L422.5,210.7 L422.8,209.3 L423.2,209.0 L423.5,212.2 L423.8,210.1 L424.2,209.8 L424.5,208.9 L424.8,210.7 L425.2,210.4 L425.5,209.7 L425.8,211.1 L426.1,212.2 L426.5,213.6 L426.8,211.2 L427.1,211.4 L427.5,208.5 L427.8,207.2 L428.1,207.0 L428.5,209.7 L428.8,208.6 L429.1,205.9 L429.4,207.1 L429.8,204.1 L430.1,207.8 L430.4,204.9 L430.8,209.5 L431.1,206.6 L431.4,206.1 L431.8,209.1 L432.1,207.7 L432.4,206.1 L432.7,207.2 L433.1,204.9 L433.4,204.9 L433.7,203.2 L434.1,202.3 L434.4,203.2 L434.7,204.8 L435.1,205.1 L435.4,207.5 L435.7,204.8 L436.0,205.4 L436.4,201.7 L436.7,205.8 L437.0,203.8 L437.4,203.5 L437.7,204.6 L438.0,203.8 L438.4,204.4 L438.7,202.8 L439.0,201.4 L439.3,201.0 L439.7,201.7 L440.0,201.1 L440.3,198.3 L440.7,198.7 L441.0,198.9 L441.3,197.6 L441.7,196.1 L442.0,196.9 L442.3,194.3 L442.6,194.9 L443.0,195.2 L443.3,193.0 L443.6,191.5 L444.0,192.8 L444.3,191.3 L444.6,188.9 L445.0,189.1 L445.3,191.4 L445.6,187.2 L445.9,187.6 L446.3,184.0 L446.6,186.0 L446.9,185.4 L447.3,185.6 L447.6,182.3 L447.9,182.3 L448.3,182.3 L448.6,181.6 L448.9,178.5 L449.2,176.5 L449.6,178.6 L449.9,175.5 L450.2,174.9 L450.6,173.2 L450.9,175.0 L451.2,173.1 L451.6,171.9 L451.9,171.7 L452.2,166.9 L452.5,170.0 L452.9,166.5 L453.2,165.7 L453.5,164.7 L453.9,161.1 L454.2,159.8 L454.5,157.4 L454.9,155.4 L455.2,155.2 L455.5,152.3 L455.8,148.8 L456.2,147.2 L456.5,147.9 L456.8,149.4 L457.2,150.2 L457.5,152.0 L457.8,154.3 L458.2,154.8 L458.5,155.3 L458.8,154.2 L459.1,155.6 L459.5,153.8 L459.8,152.8 L460.1,154.5 L460.5,155.7 L460.8,154.9 L461.1,158.1 L461.5,158.9 L461.8,160.5 L462.1,162.2 L462.4,165.3 L462.8,162.2 L463.1,167.2 L463.4,171.1 L463.8,168.7 L464.1,171.3 L464.4,173.1 L464.8,177.6 L465.1,176.6 L465.4,181.4 L465.7,179.8 L466.1,181.8 L466.4,184.1 L466.7,185.3 L467.1,185.3 L467.4,188.9 L467.7,189.7 L468.1,191.4 L468.4,192.1 L468.7,191.5 L469.0,196.4 L469.4,196.0 L469.7,196.0 L470.0,199.3 L470.4,200.7 L470.7,200.9 L471.0,204.1 L471.4,203.5 L471.7,206.2 L472.0,207.8 L472.3,207.9 L472.7,208.1 L473.0,210.7 L473.3,209.2 L473.7,209.7 L474.0,212.5 L474.3,212.6 L474.7,215.9 L475.0,213.2 L475.3,215.8 L475.6,217.9 L476.0,221.1 L476.3,220.0 L476.6,219.3 L477.0,219.8 L477.3,219.3 L477.6,220.7 L478.0,219.5 L478.3,221.9 L478.6,223.6 L478.9,219.7 L479.3,221.3 L479.6,225.8 L479.9,222.6 L480.3,222.1 L480.6,222.7 L480.9,222.4 L481.3,225.5 L481.6,224.9 L481.9,225.8 L482.2,225.6 L482.6,225.3 L482.9,224.3 L483.2,226.7 L483.6,226.6 L483.9,225.9 L484.2,225.9 L484.6,226.4 L484.9,226.2 L485.2,226.6 L485.5,228.4 L485.9,227.7 L486.2,226.1 L486.5,228.0 L486.9,229.2 L487.2,227.0 L487.5,228.4 L487.9,229.5 L488.2,229.4 L488.5,230.4 L488.8,231.8 L489.2,230.1 L489.5,231.1 L489.8,230.7 L490.2,230.8 L490.5,232.1 L490.8,230.9 L491.2,231.0 L491.5,230.8 L491.8,230.6 L492.1,229.9 L492.5,229.8 L492.8,227.3 L493.1,224.2 L493.5,223.1 L493.8,224.7 L494.1,227.6 L494.5,229.3 L494.8,230.3 L495.1,229.8 L495.4,230.7 L495.8,231.1 L496.1,231.0 L496.4,229.3 L496.8,234.4 L497.1,232.1 L497.4,231.3 L497.8,230.6 L498.1,230.3 L498.4,230.4 L498.7,229.4 L499.1,231.3 L499.4,229.4 L499.7,230.3 L500.1,231.9 L500.4,231.2 L500.7,230.4 L501.1,233.2 L501.4,233.5 L501.7,231.5 L502.0,228.7 L502.4,230.6 L502.7,229.6 L503.0,229.3" fill="none" stroke="#0000ff" stroke-width="1.5" stroke-linejoin="round"/>
<path d="M14.7,347.3 L15.0,345.1 L15.4,347.2 L15.7,346.0 L16.0,347.4 L16.4,349.4 L16.7,341.1 L17.0,346.4 L17.3,347.6 L17.7,346.2 L18.0,343.8 L18.3,346.4 L18.7,347.8 L19.0,347.9 L19.3,345.7 L19.6,345.6 L20.0,347.1 L20.3,345.0 L20.6,346.5 L21.0,347.3 L21.3,346.4 L21.6,342.8 L22.0,347.1 L22.3,344.4 L22.6,345.0 L23.0,347.8 L23.3,346.2 L23.6,346.4 L23.9,346.7 L24.3,347.0 L24.6,347.9 L24.9,350.3 L25.3,345.7 L25.6,343.5 L25.9,348.2 L26.2,346.7 L26.6,347.4 L26.9,349.2 L27.2,347.6 L27.6,345.8 L27.9,347.0 L28.2,340.3 L28.6,342.3 L28.9,347.4 L29.2,345.4 L29.6,347.8 L29.9,344.2 L30.2,343.6 L30.5,342.9 L30.9,344.9 L31.2,343.8 L31.5,345.6 L31.9,341.9 L32.2,343.6 L32.5,344.3 L32.9,344.7 L33.2,346.6 L33.5,343.7 L33.8,344.6 L34.2,348.3 L34.5,344.9 L34.8,346.4 L35.2,345.0 L35.5,345.8 L35.8,346.2 L36.2,345.5 L36.5,346.7 L36.8,342.3 L37.1,345.4 L37.5,339.7 L37.8,341.9 L38.1,337.9 L38.5,343.9 L38.8,340.5 L39.1,339.7 L39.5,343.0 L39.8,340.9 L40.1,343.0 L40.4,342.6 L40.8,343.9 L41.1,338.5 L41.4,341.9 L41.8,344.7 L42.1,339.5 L42.4,341.2 L42.8,343.3 L43.1,345.6 L43.4,343.4 L43.7,344.7 L44.1,345.0 L44.4,340.8 L44.7,341.8 L45.1,342.7 L45.4,338.3 L45.7,343.5 L46.1,342.8 L46.4,342.9 L46.7,342.1 L47.0,343.9 L47.4,341.8 L47.7,344.9 L48.0,340.5 L48.4,342.8 L48.7,339.2 L49.0,340.4 L49.4,341.4 L49.7,339.5 L50.0,341.6 L50.3,342.4 L50.7,341.1 L51.0,346.0 L51.3,339.9 L51.7,340.6 L52.0,343.9 L52.3,343.2 L52.7,340.4 L53.0,344.4 L53.3,339.6 L53.6,340.8 L54.0,340.1 L54.3,340.0 L54.6,340.9 L55.0,340.9 L55.3,340.3 L55.6,334.6 L56.0,339.2 L56.3,335.9 L56.6,337.8 L56.9,336.6 L57.3,341.0 L57.6,338.2 L57.9,334.0 L58.3,338.2 L58.6,334.0 L58.9,339.6 L59.3,339.4 L59.6,340.2 L59.9,341.0 L60.2,337.6 L60.6,343.8 L60.9,336.7 L61.2,337.0 L61.6,339.1 L61.9,335.4 L62.2,334.8 L62.6,332.6 L62.9,339.1 L63.2,334.0 L63.5,335.3 L63.9,337.1 L64.2,337.7 L64.5,336.5 L64.9,336.9 L65.2,336.7 L65.5,332.4 L65.9,336.9 L66.2,333.8 L66.5,337.5 L66.8,337.7 L67.2,332.9 L67.5,340.1 L67.8,335.6 L68.2,341.2 L68.5,332.0 L68.8,337.5 L69.2,334.3 L69.5,336.1 L69.8,331.8 L70.1,332.7 L70.5,332.7 L70.8,332.7 L71.1,332.8 L71.5,332.7 L71.8,331.9 L72.1,330.3 L72.5,329.7 L72.8,331.5 L73.1,328.0 L73.4,329.4 L73.8,327.8 L74.1,324.6 L74.4,324.7 L74.8,321.6 L75.1,319.9 L75.4,319.7 L75.8,316.7 L76.1,316.5 L76.4,314.4 L76.7,312.0 L77.1,305.4 L77.4,307.0 L77.7,303.1 L78.1,299.3 L78.4,294.6 L78.7,290.9 L79.1,286.2 L79.4,280.9 L79.7,276.3 L80.0,271.2 L80.4,265.4 L80.7,260.2 L81.0,261.4 L81.4,264.8 L81.7,270.3 L82.0,277.1 L82.4,281.0 L82.7,285.4 L83.0,291.1 L83.3,295.4 L83.7,300.9 L84.0,306.4 L84.3,312.0 L84.7,311.9 L85.0,318.7 L85.3,318.1 L85.7,318.9 L86.0,323.5 L86.3,322.8 L86.6,322.2 L87.0,325.7 L87.3,325.2 L87.6,325.9 L88.0,325.4 L88.3,330.6 L88.6,330.2 L89.0,327.4 L89.3,321.6 L89.6,326.0 L89.9,329.3 L90.3,326.2 L90.6,331.1 L90.9,328.5 L91.3,325.1 L91.6,334.4 L91.9,331.8 L92.3,330.9 L92.6,333.5 L92.9,335.2 L93.2,328.9 L93.6,333.2 L93.9,329.3 L94.2,331.5 L94.6,328.7 L94.9,333.4 L95.2,326.8 L95.6,330.8 L95.9,333.0 L96.2,331.5 L96.5,330.4 L96.9,331.8 L97.2,334.0 L97.5,334.8 L97.9,331.2 L98.2,331.5 L98.5,336.7 L98.9,332.8 L99.2,331.7 L99.5,332.4 L99.8,332.7 L100.2,327.7 L100.5,334.2 L100.8,330.7 L101.2,332.4 L101.5,329.0 L101.8,332.8 L102.2,337.7 L102.5,332.2 L102.8,335.6 L103.1,334.4 L103.5,334.6 L103.8,336.3 L104.1,336.0 L104.5,332.2 L104.8,336.2 L105.1,335.9 L105.5,335.0 L105.8,335.7 L106.1,333.7 L106.4,340.9 L106.8,333.1 L107.1,333.2 L107.4,331.6 L107.8,330.4 L108.1,333.2 L108.4,335.5 L108.8,332.7 L109.1,331.1 L109.4,334.5 L109.7,336.3 L110.1,337.8 L110.4,333.1 L110.7,330.8 L111.1,332.3 L111.4,332.4 L111.7,332.4 L112.1,331.3 L112.4,328.3 L112.7,331.6 L113.0,328.8 L113.4,326.6 L113.7,326.6 L114.0,326.4 L114.4,329.6 L114.7,327.7 L115.0,327.9 L115.4,329.6 L115.7,327.5 L116.0,328.0 L116.3,323.4 L116.7,326.7 L117.0,327.1 L117.3,323.6 L117.7,326.2 L118.0,325.1 L118.3,321.1 L118.7,320.3 L119.0,319.2 L119.3,318.5 L119.6,319.4 L120.0,320.9 L120.3,320.4 L120.6,316.6 L121.0,320.0 L121.3,315.6 L121.6,318.5 L122.0,318.0 L122.3,312.5 L122.6,318.2 L122.9,316.9 L123.3,312.3 L123.6,315.0 L123.9,317.1 L124.3,315.4 L124.6,313.6 L124.9,312.2 L125.3,314.4 L125.6,313.5 L125.9,312.6 L126.2,310.1 L126.6,311.4 L126.9,306.9 L127.2,311.5 L127.6,309.7 L127.9,304.4 L128.2,307.7 L128.6,310.5 L128.9,307.0 L129.2,310.5 L129.5,304.8 L129.9,307.8 L130.2,301.2 L130.5,304.5 L130.9,302.5 L131.2,308.6 L131.5,304.4 L131.9,304.0 L132.2,304.1 L132.5,302.0 L132.8,304.8 L133.2,310.1 L133.5,310.1 L133.8,307.1 L134.2,302.0 L134.5,308.0 L134.8,308.5 L135.2,309.3 L135.5,310.6 L135.8,312.2 L136.1,314.0 L136.5,313.1 L136.8,311.5 L137.1,313.6 L137.5,317.5 L137.8,314.0 L138.1,317.0 L138.5,318.9 L138.8,318.5 L139.1,318.0 L139.4,318.5 L139.8,321.6 L140.1,317.8 L140.4,318.4 L140.8,325.5 L141.1,327.3 L141.4,323.8 L141.8,327.9 L142.1,327.6 L142.4,326.9 L142.7,327.6 L143.1,324.1 L143.4,328.5 L143.7,328.1 L144.1,328.2 L144.4,327.9 L144.7,332.0 L145.1,325.6 L145.4,326.7 L145.7,331.3 L146.0,333.0 L146.4,333.3 L146.7,334.7 L147.0,334.2 L147.4,337.1 L147.7,335.6 L148.0,336.8 L148.4,331.7 L148.7,338.2 L149.0,336.3 L149.3,336.4 L149.7,336.5 L150.0,334.0 L150.3,339.7 L150.7,338.5 L151.0,336.4 L151.3,339.5 L151.7,340.8 L152.0,336.4 L152.3,339.7 L152.6,339.6 L153.0,341.6 L153.3,343.6 L153.6,340.4 L154.0,344.7 L154.3,346.8 L154.6,342.5 L155.0,344.1 L155.3,342.6 L155.6,343.2 L155.9,341.5 L156.3,342.4 L156.6,345.0 L156.9,341.7 L157.3,345.3 L157.6,346.0 L157.9,339.2 L158.3,342.5 L158.6,347.0 L158.9,344.5 L159.2,344.4 L159.6,342.8 L159.9,346.7 L160.2,349.6 L160.6,345.8 L160.9,341.0 L161.2,350.0 L161.6,345.2 L161.9,347.4 L162.2,348.4 L162.5,349.8 L162.9,351.9 L163.2,348.1 L163.5,348.7 L163.9,347.8 L164.2,344.7 L164.5,342.6 L164.9,348.3 L165.2,346.6 L165.5,347.1 L165.8,343.5 L166.2,348.2 L166.5,348.0 L166.8,348.1 L167.2,346.5 L167.5,342.3 L167.8,353.3 L168.2,345.7 L168.5,349.6 L168.8,349.4 L169.1,352.7 L169.5,346.6 L169.8,351.1 L170.1,347.0 L170.5,348.1 L170.8,347.8 L171.1,347.9 L171.5,347.6 L171.8,347.3 L172.1,352.7 L172.4,345.6 L172.8,350.1 L173.1,347.3 L173.4,350.1 L173.8,350.3 L174.1,344.8 L174.4,348.7 L174.8,350.8 L175.1,347.7 L175.4,351.2 L175.7,347.1 L176.1,345.9 L176.4,346.6 L176.7,348.7" fill="none" stroke="#ff0000" stroke-width="1.9" stroke-linejoin="round"/>
<path d="M178.6,340.5 L179.0,345.6 L179.4,346.1 L179.8,351.4 L180.2,350.1 L180.6,350.4 L181.0,346.2 L181.4,350.2 L181.8,348.6 L182.2,350.1 L182.6,342.7 L183.0,353.3 L183.4,353.8 L183.8,344.7 L184.2,339.6 L184.6,345.7 L185.0,342.9 L185.4,346.1 L185.8,352.1 L186.2,352.3 L186.6,347.0 L187.0,346.4 L187.4,345.9 L187.8,347.5 L188.2,347.7 L188.6,348.3 L189.0,343.4 L189.4,348.2 L189.8,351.5 L190.2,344.6 L190.6,345.5 L191.0,347.2 L191.4,348.7 L191.8,345.4 L192.2,345.8 L192.6,346.3 L193.0,347.3 L193.4,346.7 L193.8,349.9 L194.2,348.4 L194.6,346.4 L195.0,347.6 L195.4,347.3 L195.8,343.6 L196.2,343.2 L196.6,348.7 L197.0,350.0 L197.4,350.0 L197.8,345.1 L198.2,343.9 L198.6,347.4 L199.0,344.7 L199.4,341.9 L199.8,344.8 L200.2,343.4 L200.6,344.5 L201.0,347.6 L201.4,346.7 L201.8,337.7 L202.2,340.6 L202.6,345.0 L203.0,346.3 L203.4,342.9 L203.8,344.4 L204.2,345.4 L204.6,339.9 L205.0,341.9 L205.4,341.7 L205.8,337.3 L206.2,338.1 L206.6,339.0 L207.0,343.6 L207.4,345.5 L207.8,335.8 L208.2,345.4 L208.6,347.3 L209.0,350.3 L209.4,344.6 L209.8,338.0 L210.2,343.5 L210.6,342.6 L211.0,337.9 L211.4,346.8 L211.8,337.4 L212.2,344.6 L212.6,339.3 L213.0,346.0 L213.4,342.4 L213.8,347.2 L214.2,344.2 L214.6,338.3 L215.0,339.3 L215.4,340.5 L215.8,339.5 L216.2,337.5 L216.6,339.1 L217.0,340.1 L217.4,339.0 L217.8,340.8 L218.2,337.5 L218.6,345.0 L219.0,333.3 L219.4,344.0 L219.8,335.6 L220.2,335.0 L220.6,335.4 L221.0,334.8 L221.4,340.0 L221.8,337.9 L222.2,339.1 L222.6,344.1 L223.0,340.3 L223.4,342.7 L223.8,339.6 L224.2,335.2 L224.6,338.2 L225.0,338.8 L225.4,335.9 L225.8,335.9 L226.2,337.9 L226.6,345.3 L227.0,338.0 L227.4,339.6 L227.8,332.7 L228.2,333.7 L228.6,338.9 L229.0,338.9 L229.4,338.3 L229.8,342.1 L230.2,335.2 L230.6,335.6 L231.0,334.9 L231.4,336.7 L231.8,338.0 L232.2,337.1 L232.6,328.8 L233.0,336.1 L233.4,340.2 L233.8,326.7 L234.2,335.2 L234.6,333.7 L235.0,339.0 L235.4,332.6 L235.8,330.2 L236.2,334.4 L236.6,332.1 L237.0,330.6 L237.4,328.0 L237.8,327.1 L238.2,335.2 L238.6,330.8 L239.0,332.0 L239.4,324.4 L239.8,330.5 L240.2,323.7 L240.6,318.5 L241.0,314.2 L241.4,311.8 L241.8,306.9 L242.2,302.8 L242.6,297.6 L243.0,293.8 L243.4,287.5 L243.8,283.7 L244.2,278.0 L244.6,276.2 L245.0,271.7 L245.4,268.1 L245.8,268.0 L246.2,268.0 L246.6,272.1 L247.0,275.9 L247.4,280.6 L247.8,288.3 L248.2,294.8 L248.6,299.1 L249.0,301.6 L249.4,302.9 L249.8,304.0 L250.2,305.3 L250.6,305.1 L251.0,306.7 L251.4,306.5 L251.8,307.3 L252.2,305.7 L252.6,307.1 L253.0,308.6 L253.4,306.7 L253.8,304.6 L254.2,308.5 L254.6,310.2 L255.0,308.3 L255.4,314.8 L255.8,308.8 L256.2,313.0 L256.6,315.2 L257.0,315.4 L257.4,312.6 L257.8,313.5 L258.2,312.5 L258.6,314.2 L259.0,315.6 L259.4,319.0 L259.8,315.0 L260.2,315.7 L260.6,317.3 L261.0,318.7 L261.4,321.8 L261.8,318.4 L262.2,318.3 L262.6,323.7 L263.0,319.0 L263.4,327.0 L263.8,325.3 L264.2,321.7 L264.6,319.8 L265.0,319.0 L265.4,318.4 L265.8,317.3 L266.2,317.8 L266.6,317.5 L267.0,321.2 L267.4,324.5 L267.8,322.7 L268.2,322.4 L268.6,324.1 L269.0,327.4 L269.4,330.1 L269.8,325.3 L270.2,324.6 L270.6,319.3 L271.0,317.8 L271.4,323.3 L271.8,318.5 L272.2,323.1 L272.6,318.9 L273.0,322.6 L273.4,321.3 L273.8,320.2 L274.2,320.7 L274.6,325.1 L275.0,323.7 L275.4,317.4 L275.8,314.2 L276.2,315.4 L276.6,312.0 L277.0,316.5 L277.4,307.7 L277.8,306.6 L278.2,307.8 L278.6,298.3 L279.0,304.9 L279.4,303.8 L279.8,297.2 L280.2,300.4 L280.6,296.0 L281.0,301.4 L281.4,295.8 L281.8,299.2 L282.2,296.9 L282.6,290.7 L283.0,292.5 L283.4,293.9 L283.8,290.3 L284.2,280.8 L284.6,292.1 L285.0,282.5 L285.4,286.4 L285.8,286.7 L286.2,282.3 L286.6,276.2 L287.0,278.3 L287.4,274.3 L287.8,270.5 L288.2,275.5 L288.6,273.4 L289.0,269.7 L289.4,269.7 L289.8,264.8 L290.2,270.4 L290.6,265.6 L291.0,267.2 L291.4,266.2 L291.8,263.9 L292.2,262.0 L292.6,263.9 L293.0,264.9 L293.4,260.6 L293.8,264.3 L294.2,262.5 L294.6,266.5 L295.0,262.8 L295.4,266.9 L295.8,266.6 L296.2,267.3 L296.6,271.6 L297.0,271.3 L297.4,273.1 L297.8,272.9 L298.2,274.9 L298.6,272.0 L299.0,275.4 L299.4,277.9 L299.8,276.4 L300.2,274.5 L300.6,277.4 L301.0,278.0 L301.4,283.3 L301.8,282.6 L302.2,287.9 L302.6,289.9 L303.0,291.6 L303.4,289.2 L303.8,293.6 L304.2,297.8 L304.6,298.0 L305.0,296.9 L305.4,299.6 L305.8,301.9 L306.2,302.6 L306.6,304.0 L307.0,303.9 L307.4,303.4 L307.8,308.1 L308.2,312.1 L308.6,307.9 L309.0,317.0 L309.4,312.2 L309.8,307.9 L310.2,311.2 L310.6,314.7 L311.0,314.8 L311.4,317.0 L311.8,320.9 L312.2,323.2 L312.6,324.4 L313.0,326.2 L313.4,325.7 L313.8,328.1 L314.2,326.8 L314.6,329.9 L315.0,327.1 L315.4,332.6 L315.8,330.7 L316.2,330.6 L316.6,334.5 L317.0,335.4 L317.4,337.0 L317.8,336.3 L318.2,337.5 L318.6,336.6 L319.0,342.1 L319.4,335.8 L319.8,340.8 L320.2,336.7 L320.6,347.5 L321.0,344.2 L321.4,344.6 L321.8,341.2 L322.2,345.1 L322.6,343.6 L323.0,348.8 L323.4,336.9 L323.8,346.5 L324.2,351.6 L324.6,343.1 L325.0,353.3 L325.4,348.9 L325.8,340.9 L326.2,346.5 L326.6,354.1 L327.0,346.5 L327.4,352.7 L327.8,345.5 L328.2,350.7 L328.6,339.2 L329.0,341.9 L329.4,345.6 L329.8,351.8 L330.2,351.1 L330.6,349.4 L331.0,349.1 L331.4,348.3 L331.8,343.9 L332.2,344.7 L332.6,344.9 L333.0,353.2 L333.4,347.6 L333.8,348.7 L334.2,344.0 L334.6,346.9 L335.0,347.0 L335.4,344.0 L335.8,345.5 L336.2,345.3 L336.6,342.6 L337.0,345.6 L337.4,348.0 L337.8,348.8 L338.2,349.1 L338.6,348.9 L339.0,345.2 L339.4,350.3 L339.8,352.6 L340.2,357.9" fill="none" stroke="#900000" stroke-width="1.7" stroke-linejoin="round"/>
<path d="M342.0,350.5 L342.4,350.7 L342.9,350.3 L343.3,349.3 L343.8,349.6 L344.2,350.0 L344.7,349.3 L345.1,350.1 L345.6,349.5 L346.0,348.7 L346.5,348.1 L346.9,348.9 L347.4,348.7 L347.8,349.1 L348.3,348.5 L348.7,349.8 L349.2,348.7 L349.6,348.2 L350.1,348.8 L350.5,348.0 L351.0,347.6 L351.4,347.3 L351.9,347.2 L352.3,347.3 L352.8,346.6 L353.2,346.4 L353.7,347.4 L354.1,347.2 L354.6,346.8 L355.0,347.5 L355.5,347.8 L355.9,347.3 L356.4,346.9 L356.8,347.0 L357.3,346.7 L357.7,346.8 L358.2,346.5 L358.6,345.9 L359.1,346.9 L359.5,346.1 L360.0,346.6 L360.4,346.4 L360.9,346.1 L361.3,345.8 L361.8,345.8 L362.2,345.0 L362.7,345.1 L363.1,344.0 L363.6,344.7 L364.0,344.9 L364.5,343.8 L364.9,344.0 L365.4,343.9 L365.8,343.8 L366.3,343.7 L366.7,343.7 L367.2,343.0 L367.6,343.2 L368.1,343.3 L368.5,342.5 L369.0,340.8 L369.4,341.3 L369.9,340.1 L370.3,340.0 L370.8,339.5 L371.2,339.6 L371.7,338.6 L372.1,338.5 L372.6,337.5 L373.0,337.3 L373.5,336.4 L373.9,336.4 L374.4,336.1 L374.8,335.7 L375.3,336.0 L375.7,335.3 L376.2,335.6 L376.6,335.9 L377.1,335.6 L377.5,336.2 L378.0,336.5 L378.4,336.0 L378.9,336.8 L379.3,336.5 L379.8,336.2 L380.2,337.1 L380.7,337.0 L381.1,337.3 L381.6,337.1 L382.0,337.0 L382.5,336.3 L382.9,336.2 L383.4,336.0 L383.8,336.7 L384.3,336.6 L384.7,336.2 L385.2,336.3 L385.6,336.1 L386.1,336.3 L386.5,336.3 L387.0,336.1 L387.4,335.5 L387.9,335.7 L388.3,334.4 L388.8,335.1 L389.2,335.1 L389.7,335.4 L390.1,335.3 L390.6,335.1 L391.0,335.3 L391.5,334.8 L391.9,334.6 L392.4,334.3 L392.8,334.8 L393.3,334.5 L393.7,334.5 L394.2,333.6 L394.6,333.9 L395.1,333.3 L395.5,333.6 L396.0,334.1 L396.4,333.7 L396.9,333.3 L397.3,333.6 L397.8,332.5 L398.2,332.6 L398.7,332.6 L399.1,332.3 L399.6,332.1 L400.0,331.2 L400.5,331.3 L400.9,330.7 L401.4,329.7 L401.8,329.3 L402.3,329.5 L402.7,327.9 L403.2,327.7 L403.6,326.7 L404.1,326.2 L404.5,325.8 L405.0,323.9 L405.4,323.6 L405.9,322.2 L406.3,319.8 L406.8,318.9 L407.2,318.1 L407.7,316.3 L408.1,316.4 L408.6,316.1 L409.0,315.5 L409.5,317.0 L409.9,317.3 L410.4,318.6 L410.8,319.3 L411.3,319.2 L411.7,319.7 L412.2,319.9 L412.6,320.7 L413.1,320.9 L413.5,320.2 L414.0,320.0 L414.4,320.1 L414.9,321.1 L415.3,320.6 L415.8,320.3 L416.2,320.5 L416.7,320.5 L417.1,320.0 L417.6,320.6 L418.0,321.4 L418.5,321.6 L418.9,320.4 L419.4,320.6 L419.8,320.8 L420.3,320.4 L420.7,321.7 L421.2,322.7 L421.6,322.9 L422.1,323.3 L422.5,323.7 L423.0,325.1 L423.4,324.3 L423.9,325.7 L424.3,326.7 L424.8,327.2 L425.2,327.6 L425.7,328.0 L426.1,327.8 L426.6,328.4 L427.0,328.4 L427.5,328.5 L427.9,328.6 L428.4,328.8 L428.8,329.0 L429.3,328.8 L429.7,328.9 L430.2,329.4 L430.6,329.0 L431.1,329.7 L431.5,329.3 L432.0,329.5 L432.4,329.6 L432.9,330.2 L433.3,330.4 L433.8,330.1 L434.2,329.4 L434.7,329.9 L435.1,329.6 L435.6,329.9 L436.0,330.0 L436.5,330.0 L436.9,330.4 L437.4,329.3 L437.8,329.7 L438.3,329.1 L438.7,328.5 L439.2,328.0 L439.6,327.4 L440.1,327.2 L440.5,325.5 L441.0,324.6 L441.4,323.5 L441.9,322.9 L442.3,322.1 L442.8,321.5 L443.2,320.0 L443.7,319.1 L444.1,318.2 L444.6,317.1 L445.0,315.7 L445.5,314.7 L445.9,313.7 L446.4,311.9 L446.8,310.3 L447.3,309.0 L447.7,307.8 L448.2,306.1 L448.6,304.2 L449.1,302.2 L449.5,300.6 L450.0,298.2 L450.4,296.5 L450.9,294.3 L451.3,292.2 L451.8,290.1 L452.2,288.5 L452.7,286.0 L453.1,283.8 L453.6,281.5 L454.0,278.7 L454.5,276.3 L454.9,272.7 L455.4,270.0 L455.8,267.7 L456.3,265.4 L456.7,263.1 L457.2,260.8 L457.6,259.3 L458.1,258.4 L458.5,258.2 L459.0,258.1 L459.4,258.2 L459.9,259.3 L460.3,260.1 L460.8,261.4 L461.2,261.9 L461.7,262.8 L462.1,262.8 L462.6,264.2 L463.0,265.3 L463.5,266.5 L463.9,268.0 L464.4,269.5 L464.8,271.1 L465.3,273.6 L465.7,276.0 L466.2,278.8 L466.6,281.7 L467.1,284.6 L467.5,287.3 L468.0,291.4 L468.4,295.3 L468.9,299.5 L469.3,302.9 L469.8,306.1 L470.2,308.1 L470.7,310.1 L471.1,312.9 L471.6,315.5 L472.0,316.3 L472.5,319.2 L472.9,320.1 L473.4,322.0 L473.8,324.0 L474.3,325.9 L474.7,327.9 L475.2,329.0 L475.6,330.4 L476.1,332.4 L476.5,333.7 L477.0,335.2 L477.4,336.2 L477.9,338.1 L478.3,339.0 L478.8,339.7 L479.2,340.9 L479.7,341.5 L480.1,343.0 L480.6,342.8 L481.0,342.7 L481.5,343.0 L481.9,343.0 L482.4,344.3 L482.8,344.7 L483.3,344.4 L483.7,345.6 L484.2,345.5 L484.6,346.6 L485.1,346.8 L485.5,346.0 L486.0,346.1 L486.4,345.9 L486.9,347.6 L487.3,347.3 L487.8,347.7 L488.2,348.1 L488.7,348.3 L489.1,349.2 L489.6,348.7 L490.0,348.8 L490.5,349.6 L490.9,349.6 L491.4,349.5 L491.8,349.1 L492.3,349.0 L492.7,349.7 L493.2,349.2 L493.6,349.2 L494.1,348.7 L494.5,349.3 L495.0,348.8 L495.4,349.1 L495.9,350.5 L496.3,349.8 L496.8,349.7 L497.2,350.0 L497.7,349.4 L498.1,349.7 L498.6,350.7 L499.0,350.3 L499.5,350.4 L499.9,350.0 L500.4,351.5 L500.8,351.4 L501.3,351.5 L501.7,352.0 L502.2,351.6 L502.6,351.7 L503.1,352.2" fill="none" stroke="#0000ff" stroke-width="1.6" stroke-linejoin="round"/>
<line x1="14.0" y1="15.65" x2="14.0" y2="362.15000000000003" stroke="#000" stroke-width="1.7"/>
<line x1="177.9" y1="15.65" x2="177.9" y2="362.15000000000003" stroke="#000" stroke-width="1.7"/>
<line x1="341.3" y1="15.65" x2="341.3" y2="362.15000000000003" stroke="#000" stroke-width="1.7"/>
<line x1="505.0" y1="15.65" x2="504.1" y2="362.15000000000003" stroke="#000" stroke-width="1.7"/>
<line x1="13.15" y1="16.5" x2="505.5" y2="16.5" stroke="#000" stroke-width="1.7"/>
<line x1="13.15" y1="131.8" x2="505.5" y2="131.8" stroke="#000" stroke-width="1.7"/>
<line x1="13.15" y1="247.2" x2="505.5" y2="247.2" stroke="#000" stroke-width="1.7"/>
<line x1="13.15" y1="361.3" x2="505.5" y2="361.3" stroke="#000" stroke-width="1.7"/>
<line x1="14.0" y1="361.3" x2="14.0" y2="364.7" stroke="#000" stroke-width="1.5"/>
<line x1="34.5" y1="361.3" x2="34.5" y2="363.3" stroke="#000" stroke-width="1.5"/>
<line x1="55.0" y1="361.3" x2="55.0" y2="364.7" stroke="#000" stroke-width="1.5"/>
<line x1="75.5" y1="361.3" x2="75.5" y2="363.3" stroke="#000" stroke-width="1.5"/>
<line x1="96.0" y1="361.3" x2="96.0" y2="364.7" stroke="#000" stroke-width="1.5"/>
<line x1="116.4" y1="361.3" x2="116.4" y2="363.3" stroke="#000" stroke-width="1.5"/>
<line x1="136.9" y1="361.3" x2="136.9" y2="364.7" stroke="#000" stroke-width="1.5"/>
<line x1="157.4" y1="361.3" x2="157.4" y2="363.3" stroke="#000" stroke-width="1.5"/>
<line x1="177.9" y1="361.3" x2="177.9" y2="364.7" stroke="#000" stroke-width="1.5"/>
<line x1="177.9" y1="361.3" x2="177.9" y2="364.7" stroke="#000" stroke-width="1.5"/>
<line x1="198.4" y1="361.3" x2="198.4" y2="363.3" stroke="#000" stroke-width="1.5"/>
<line x1="218.9" y1="361.3" x2="218.9" y2="364.7" stroke="#000" stroke-width="1.5"/>
<line x1="239.4" y1="361.3" x2="239.4" y2="363.3" stroke="#000" stroke-width="1.5"/>
<line x1="259.9" y1="361.3" x2="259.9" y2="364.7" stroke="#000" stroke-width="1.5"/>
<line x1="280.3" y1="361.3" x2="280.3" y2="363.3" stroke="#000" stroke-width="1.5"/>
<line x1="300.8" y1="361.3" x2="300.8" y2="364.7" stroke="#000" stroke-width="1.5"/>
<line x1="321.3" y1="361.3" x2="321.3" y2="363.3" stroke="#000" stroke-width="1.5"/>
<line x1="341.8" y1="361.3" x2="341.8" y2="364.7" stroke="#000" stroke-width="1.5"/>
<line x1="341.3" y1="361.3" x2="341.3" y2="364.7" stroke="#000" stroke-width="1.5"/>
<line x1="361.8" y1="361.3" x2="361.8" y2="363.3" stroke="#000" stroke-width="1.5"/>
<line x1="382.3" y1="361.3" x2="382.3" y2="364.7" stroke="#000" stroke-width="1.5"/>
<line x1="402.8" y1="361.3" x2="402.8" y2="363.3" stroke="#000" stroke-width="1.5"/>
<line x1="423.2" y1="361.3" x2="423.2" y2="364.7" stroke="#000" stroke-width="1.5"/>
<line x1="443.7" y1="361.3" x2="443.7" y2="363.3" stroke="#000" stroke-width="1.5"/>
<line x1="464.2" y1="361.3" x2="464.2" y2="364.7" stroke="#000" stroke-width="1.5"/>
<line x1="484.7" y1="361.3" x2="484.7" y2="363.3" stroke="#000" stroke-width="1.5"/>
<line x1="505.2" y1="361.3" x2="505.2" y2="364.7" stroke="#000" stroke-width="1.5"/>
<text x="71.65" y="13.7" font-size="18.7" font-weight="bold">MCD</text>
<text x="249.66" y="13.7" font-size="18.5" font-weight="bold">NCD</text>
<text x="405.3" y="14.9" font-size="18.5" font-weight="bold">UNCD</text>
<text x="16.0" y="29.8" font-size="15">(a<tspan font-size="11" font-weight="bold" dy="2.8" dx="0.1" letter-spacing="-0.1">I</tspan><tspan dy="-2.8" dx="1.1">)</tspan></text>
<text x="179.9" y="29.8" font-size="15">(b<tspan font-size="11" font-weight="bold" dy="2.8" dx="0.1" letter-spacing="-0.1">I</tspan><tspan dy="-2.8" dx="1.1">)</tspan></text>
<text x="344.1" y="29.8" font-size="15">(c<tspan font-size="11" font-weight="normal" dy="2.8" dx="0.1" letter-spacing="0.2">I</tspan><tspan dy="-2.8" dx="1.1">)</tspan></text>
<text x="16.0" y="146.9" font-size="15">(a<tspan font-size="11" font-weight="bold" dy="2.0" dx="0.1" letter-spacing="-0.1">II</tspan><tspan dy="-2.0" dx="1.2">)</tspan></text>
<text x="179.9" y="146.9" font-size="15">(b<tspan font-size="11" font-weight="bold" dy="2.0" dx="0.1" letter-spacing="-0.1">II</tspan><tspan dy="-2.0" dx="1.2">)</tspan></text>
<text x="344.1" y="146.9" font-size="15">(c<tspan font-size="11" font-weight="normal" dy="2.0" dx="0.1" letter-spacing="0.2">II</tspan><tspan dy="-2.0" dx="1.2">)</tspan></text>
<text x="16.0" y="260.9" font-size="15">(a<tspan font-size="11" font-weight="bold" dy="2.7" dx="0.1" letter-spacing="-0.1">III</tspan><tspan dy="-2.7" dx="1.4">)</tspan></text>
<text x="179.9" y="260.9" font-size="15">(b<tspan font-size="11" font-weight="bold" dy="2.7" dx="0.1" letter-spacing="-0.1">III</tspan><tspan dy="-2.7" dx="1.4">)</tspan></text>
<text x="344.1" y="260.9" font-size="15">(c<tspan font-size="11" font-weight="normal" dy="2.7" dx="0.1" letter-spacing="0.2">III</tspan><tspan dy="-2.7" dx="1.4">)</tspan></text>
<text x="68.1" y="31.3" font-size="8.5" font-weight="bold" fill="#ff0000">D</text>
<text x="142.1" y="106.3" font-size="8.5" font-weight="bold" fill="#ff0000">G</text>
<text x="235.6" y="29.6" font-size="8.3" font-weight="bold" fill="#900000">D</text>
<text x="303.1" y="38.0" font-size="8.3" font-weight="bold" fill="#900000">G</text>
<text x="398.8" y="66.0" font-size="8.3" font-weight="bold" fill="#0000ff">D</text>
<text x="462.9" y="34.4" font-size="8.3" font-weight="bold" fill="#0000ff">G</text>
<text x="73.4" y="150.3" font-size="8.3" font-weight="bold" fill="#ff0000">D</text>
<text x="147.8" y="207.9" font-size="8.3" font-weight="bold" fill="#ff0000">G</text>
<text x="231.5" y="145.6" font-size="8.3" font-weight="bold" fill="#900000">D</text>
<text x="307.9" y="196.5" font-size="8.3" font-weight="bold" fill="#900000">G</text>
<text x="394.7" y="193.0" font-size="8.3" font-weight="bold" fill="#0000ff">D</text>
<text x="465.1" y="152.2" font-size="8.3" font-weight="bold" fill="#0000ff">G</text>
<text x="69.9" y="261.2" font-size="8.3" font-weight="bold" fill="#ff0000">D</text>
<text x="143.5" y="302.5" font-size="8.3" font-weight="bold" fill="#ff0000">G</text>
<text x="232.3" y="270.2" font-size="8.3" font-weight="bold" fill="#900000">D</text>
<text x="298.9" y="261.2" font-size="8.3" font-weight="bold" fill="#900000">G</text>
<text x="398.8" y="317.0" font-size="8.3" font-weight="bold" fill="#0000ff">D</text>
<text x="470.5" y="259.0" font-size="8.3" font-weight="bold" fill="#0000ff">G</text>
<text x="512.9" y="86.3" font-size="18.6" font-weight="bold">SiO<tspan font-size="13.9" dy="3.9">2</tspan><tspan dy="-3.9">/Si</tspan></text>
<text x="512.9" y="191.7" font-size="18.6" font-weight="bold">Soda-lime</text>
<text x="527.5" y="213.4" font-size="18.6" font-weight="bold">glass</text>
<text x="513.2" y="290.7" font-size="18.6" font-weight="bold">Soda-lime</text>
<text x="523.2" y="312.9" font-size="18.6" font-weight="bold">glass</text>
<text x="528.2" y="334.4" font-size="18.6" font-weight="bold">fiber</text>
<text transform="translate(8.4,76.4) rotate(-90)" text-anchor="middle" font-size="8.2" font-weight="bold" letter-spacing="0.45">Intensity (arb units)</text>
<text transform="translate(8.4,196.0) rotate(-90)" text-anchor="middle" font-size="8.2" font-weight="bold" letter-spacing="0.45">Intensity (arb units)</text>
<text transform="translate(8.4,302.2) rotate(-90)" text-anchor="middle" font-size="8.2" font-weight="bold" letter-spacing="0.45">Intensity (arb.units)</text>
<text x="14.0" y="372.2" font-size="9.3" font-weight="bold" text-anchor="middle" fill="#222">1000</text>
<text x="55.0" y="372.2" font-size="9.3" font-weight="bold" text-anchor="middle" fill="#222">1200</text>
<text x="96.0" y="372.2" font-size="9.3" font-weight="bold" text-anchor="middle" fill="#222">1400</text>
<text x="136.9" y="372.2" font-size="9.3" font-weight="bold" text-anchor="middle" fill="#222">1600</text>
<text x="177.9" y="372.2" font-size="9.3" font-weight="bold" text-anchor="middle" fill="#222">1800</text>
<text x="177.9" y="372.2" font-size="9.3" font-weight="bold" text-anchor="middle" fill="#222">1000</text>
<text x="218.9" y="372.2" font-size="9.3" font-weight="bold" text-anchor="middle" fill="#222">1200</text>
<text x="259.9" y="372.2" font-size="9.3" font-weight="bold" text-anchor="middle" fill="#222">1400</text>
<text x="300.8" y="372.2" font-size="9.3" font-weight="bold" text-anchor="middle" fill="#222">1600</text>
<text x="341.8" y="372.2" font-size="9.3" font-weight="bold" text-anchor="middle" fill="#222">1800</text>
<text x="341.3" y="372.2" font-size="9.3" font-weight="bold" text-anchor="middle" fill="#222">1000</text>
<text x="382.3" y="372.2" font-size="9.3" font-weight="bold" text-anchor="middle" fill="#222">1200</text>
<text x="423.2" y="372.2" font-size="9.3" font-weight="bold" text-anchor="middle" fill="#222">1400</text>
<text x="464.2" y="372.2" font-size="9.3" font-weight="bold" text-anchor="middle" fill="#222">1600</text>
<text x="505.2" y="372.2" font-size="9.3" font-weight="bold" text-anchor="middle" fill="#222">1800</text>
<text y="380.6" font-weight="bold" fill="#222"><tspan x="43.1" font-size="8.3" letter-spacing="0.82">Ramanshift</tspan><tspan x="97.5" font-size="6.8" font-weight="normal">(</tspan><tspan x="100.0" font-size="8.4" letter-spacing="0.3">cm</tspan><tspan x="115.0" y="376.4" font-size="7.8">-</tspan><tspan x="118.5" y="377.4" font-size="9.4">1</tspan><tspan x="123.2" y="381.4" font-size="6.8" font-weight="normal">)</tspan></text>
<text y="384.0" font-weight="bold" fill="#222"><tspan x="210.6" font-size="8.3" letter-spacing="0.82">Ramanshift</tspan><tspan x="265.8" font-size="6.8" font-weight="normal">(</tspan><tspan x="267.2" font-size="8.4" letter-spacing="0.3">cm</tspan><tspan x="282.5" y="379.8" font-size="7.8">-</tspan><tspan x="287.3" y="380.8" font-size="9.4">1</tspan><tspan x="290.7" y="384.8" font-size="6.8" font-weight="normal">)</tspan></text>
<text y="379.7" font-weight="bold" fill="#222"><tspan x="372.8" font-size="8.3" letter-spacing="0.82">Ramanshift</tspan><tspan x="427.1" font-size="6.8" font-weight="normal">(</tspan><tspan x="429.7" font-size="8.4" letter-spacing="0.3">cm</tspan><tspan x="443.7" y="375.5" font-size="7.8">-</tspan><tspan x="449.0" y="376.5" font-size="9.4">1</tspan><tspan x="452.4" y="380.5" font-size="6.8" font-weight="normal">)</tspan></text>
</svg></body></html>
